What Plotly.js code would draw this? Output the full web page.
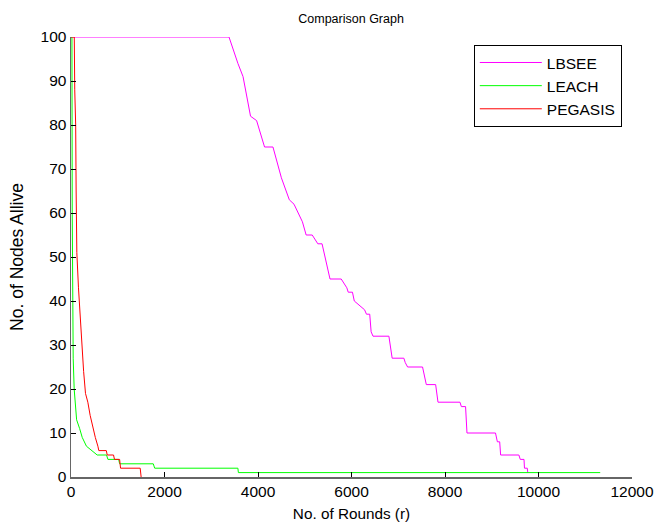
<!DOCTYPE html>
<html>
<head>
<meta charset="utf-8">
<script src="https://cdn.plot.ly/plotly-3.0.1.min.js"></script>
<style>html,body{margin:0;padding:0;background:#fff;}#chart{width:655px;height:529px;}</style>
</head>
<body>
<div id="chart"></div>
<script>
// LBSEE
const lbseeX = [0,3380,3570,3680,3840,3970,4140,4320,4500,4670,4770,4950,5030,5160,5280,5370,5540,5780,5900,5930,6020,6060,6280,6320,6390,6420,6460,6800,6870,7120,7150,7200,7520,7600,7800,7850,8320,8350,8440,8470,9080,9120,9170,9190,9580,9610,9690,9700,9760,9770];
const lbseeY = [100,100,94,91,82,81,75,75,68,63,62,58,55,55,53,53,45,45,43,42,42,40,38,37,37,33,32,32,27,27,26,25,25,21,21,17,17,16,16,10,10,8,8,5,5,4,4,2,2,1];
// LEACH
const leachX = [0,20,26,30,40,47,68,96,120,185,240,330,435,560,760,790,1020,1040,1760,1790,3570,3580,11320];
const leachY = [100,100,60,45,30,27,20,16,13,11,9,7,6,5,5,4,4,3,3,2,2,1,1];
// PEGASIS
const pegX = [0,70,80,100,110,125,160,200,230,270,310,360,410,470,520,575,595,755,775,910,930,1040,1060,1480,1500];
const pegY = [100,100,88,80,65,51,43,35,30,24,19,17,14,11,9,7,6,6,5,5,4,4,2,2,0];

const xTicks = [0,2000,4000,6000,8000,10000,12000];
const yTicks = [0,10,20,30,40,50,60,70,80,90,100];

const traces = [
  {x: lbseeX, y: lbseeY, name: 'LBSEE', mode: 'lines', line: {color: '#ff00ff', width: 1}},
  {x: leachX, y: leachY, name: 'LEACH', mode: 'lines', line: {color: '#00ff00', width: 1}},
  {x: pegX, y: pegY, name: 'PEGASIS', mode: 'lines', line: {color: '#ff0000', width: 1}}
];

const layout = {
  width: 655, height: 529,
  margin: {l: 71, r: 23, t: 37, b: 52},
  paper_bgcolor: '#fff', plot_bgcolor: '#fff',
  font: {family: 'Arial, "Liberation Sans", sans-serif', size: 15.5, color: '#000'},
  title: {text: 'Comparison Graph', font: {size: 12.5}, x: 0.536, xanchor: 'center', y: 0.965, yanchor: 'middle'},
  xaxis: {
    range: [0, 12000], tickvals: xTicks, ticktext: xTicks.map(String),
    ticks: 'inside', ticklen: 5, tickcolor: '#000', showline: true, linecolor: '#666', linewidth: 1.5,
    showgrid: false, zeroline: false, tickfont: {size: 15.5},
    title: {text: 'No. of Rounds (r)', font: {size: 15.3}, standoff: 9}
  },
  yaxis: {
    range: [0, 100], tickvals: yTicks, ticktext: yTicks.map(String),
    ticks: 'inside', ticklen: 5, tickcolor: '#000', showline: true, linecolor: '#666', linewidth: 1.5,
    showgrid: false, zeroline: false, tickfont: {size: 15.5},
    title: {text: 'No. of Nodes Allive', font: {size: 17.5}, standoff: 12}
  },
  showlegend: true,
  legend: {
    x: 0.718, y: 0.982, xanchor: 'left', yanchor: 'top',
    bordercolor: '#000', borderwidth: 1, bgcolor: '#fff',
    font: {size: 15.5}, tracegroupgap: 0, itemwidth: 62
  }
};

Plotly.newPlot('chart', traces, layout, {displayModeBar: false, staticPlot: true});
</script>
</body>
</html>
